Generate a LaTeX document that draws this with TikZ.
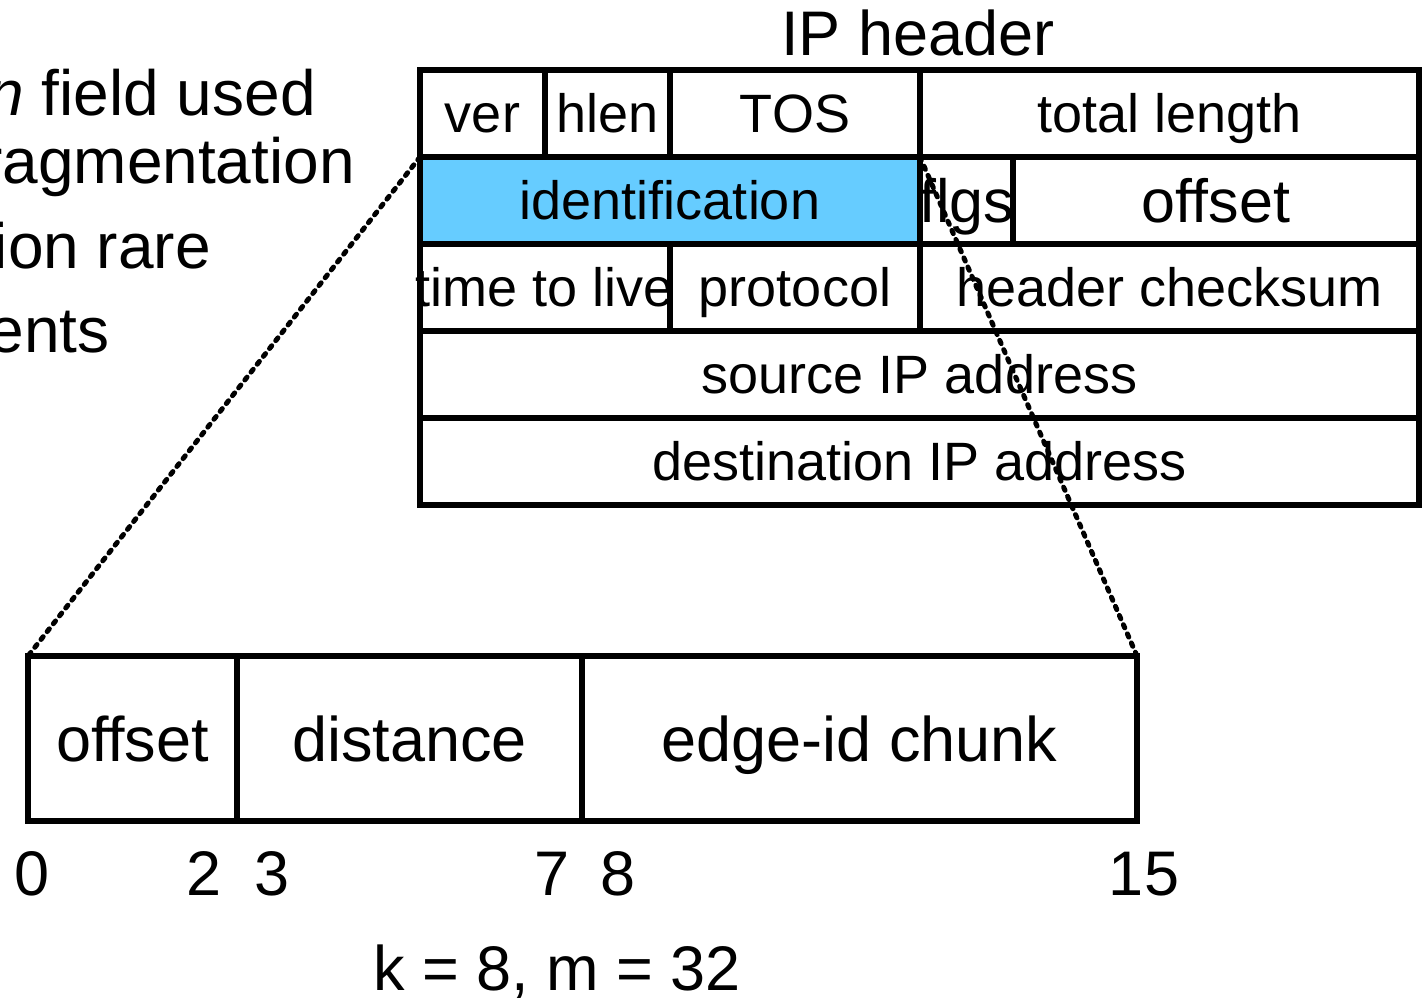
\documentclass[tikz,border=0pt]{standalone}
\usepackage{fontspec}
\setmainfont{Liberation Sans}
\definecolor{idblue}{RGB}{102,204,255}
\newcommand{\celltext}[1]{\makebox[0pt][c]{#1}}
\tikzset{
  cell/.style={draw, line width=5.5pt, inner sep=0pt, outer sep=0pt, anchor=north west,
    minimum height=87pt, text height=38.7pt, text depth=0pt, font=\fontsize{54}{60}\selectfont},
  bigcell/.style={cell, text height=43.7pt, font=\fontsize{61}{70}\selectfont},
  bcell/.style={cell, minimum height=165pt, text height=45pt, font=\fontsize{63}{72}\selectfont},
  lbl/.style={inner sep=0pt, anchor=base, font=\fontsize{63}{72}\selectfont},
  side/.style={inner sep=0pt, anchor=base east, font=\fontsize{64}{72}\selectfont},
  zoomline/.style={line width=5pt, line cap=round, dash pattern=on 3.5pt off 6.5pt}
}
\begin{document}
\begin{tikzpicture}[x=1pt, y=-1pt]
\useasboundingbox (0,0) rectangle (1425,997);
\clip (0,0) rectangle (1425,997);
% side text (cut off at the left edge)
\node[side] (s1) at (316,115) {\textit{n} field used};
\node[side] (s2) at (355,183) {ragmentation};
\node[side] (s3) at (211,268) {ion rare};
\node[side] (s4) at (110,352) {ents};
% title
\node[lbl] (title) at (918,55) {IP header};
% IP header rows
\node[cell, minimum width=125pt] (ver) at (420,70) {\celltext{ver}};
\node[cell, minimum width=125pt] (hlen) at (545,70) {\celltext{hlen}};
\node[cell, minimum width=250pt] (tos) at (670,70) {\celltext{TOS}};
\node[cell, minimum width=499pt] (tlen) at (920,70) {\celltext{total length}};
\node[cell, minimum width=500pt, fill=idblue] (ident) at (420,157) {\celltext{identification}};
\node[bigcell, minimum width=93pt] (flgs) at (920,157) {\celltext{flgs}};
\node[bigcell, minimum width=406pt] (foff) at (1013,157) {\celltext{offset}};
\node[cell, minimum width=250pt] (ttl) at (420,244) {\celltext{time to live}};
\node[cell, minimum width=250pt] (proto) at (670,244) {\celltext{protocol}};
\node[cell, minimum width=499pt] (cksum) at (920,244) {\celltext{header checksum}};
\node[cell, minimum width=999pt] (src) at (420,331) {\celltext{source IP address}};
\node[cell, minimum width=999pt] (dst) at (420,418) {\celltext{destination IP address}};
% expanded identification field
\node[bcell, minimum width=209pt] (boff) at (28,656) {\celltext{offset}};
\node[bcell, minimum width=345pt] (bdist) at (237,656) {\celltext{distance}};
\node[bcell, minimum width=555pt] (bedge) at (582,656) {\celltext{edge-id chunk}};
% zoom lines
\draw[zoomline] (ident.north west) -- (boff.north west);
\draw[zoomline] (ident.north east) -- (bedge.north east);
% bit positions
\node[lbl] (b0) at (32,895) {0};
\node[lbl] (b2) at (204,895) {2};
\node[lbl] (b3) at (272,895) {3};
\node[lbl] (b7) at (552,895) {7};
\node[lbl] (b8) at (618,895) {8};
\node[lbl] (b15) at (1144,895) {15};
\node[lbl] (km) at (557,990) {k = 8, m = 32};
\end{tikzpicture}
\end{document}
